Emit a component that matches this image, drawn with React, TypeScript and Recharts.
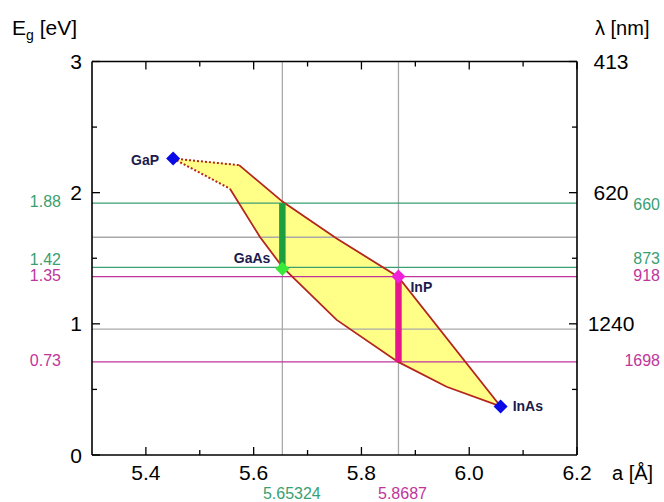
import React from 'react';
import { Area, ComposedChart, Line, ReferenceLine, Scatter, XAxis, YAxis } from 'recharts';

// Band gap vs. lattice constant for the (Ga,In)(As,P) alloy system.
// Yellow region = reachable alloys; coloured bars/lines mark the GaAs and InP
// lattice-matched ranges, with the matching wavelengths on the right axis.

const X_TICKS = [5.4, 5.6, 5.8, 6.0, 6.2];
const X_MINOR = [5.5, 5.7, 5.9, 6.1];
const Y_TICKS = [0, 1, 2, 3];
const Y_MINOR = [0.5, 1.5, 2.5];
const LAMBDA_TICKS = [1, 2, 3];
const LAMBDA_LABELS = ['1240', '620', '413'];

const COMPOUNDS = ['GaP', 'GaAs', 'InP', 'InAs'];
const COMPOUND_A = [5.4505, 5.65324, 5.8687, 6.0583];
const COMPOUND_EG = [2.26, 1.42, 1.36, 0.37];

// edges of the filled region, read at the same lattice constants
const AREA_A = [5.4505, 5.556, 5.573, 5.612, 5.654, 5.754, 5.868, 5.958, 6.0583];
const AREA_LOW = [2.26, 2.03, 1.92, 1.66, 1.43, 1.03, 0.71, 0.52, 0.37];
const AREA_HIGH = [2.26, 2.22, 2.21, 2.07, 1.93, 1.65, 1.36, 0.89, 0.37];

const UPPER_A = [5.573, 5.654, 5.754, 5.868, 6.0583];
const UPPER_EG = [2.21, 1.93, 1.65, 1.36, 0.37];
const LOWER_A = [5.556, 5.612, 5.654, 5.754, 5.868, 5.958, 6.0583];
const LOWER_EG = [2.03, 1.66, 1.43, 1.03, 0.71, 0.52, 0.37];

// dotted edges out to GaP
const DOT_UP_A = [5.4505, 5.573];
const DOT_UP_EG = [2.26, 2.21];
const DOT_LOW_A = [5.4505, 5.556];
const DOT_LOW_EG = [2.26, 2.03];

// lattice-matched band-gap ranges
const BAR_A = [5.65324, 5.8687];
const BAR_LOW = [1.42, 0.71];
const BAR_HIGH = [1.92, 1.36];

const LEVEL_EG = [1.92, 1.43, 1.36, 0.71];
const LEVEL_LEFT = ['1.88', '1.42', '1.35', '0.73'];
const LEVEL_RIGHT = ['660', '873', '918', '1698'];
const GRID_EG = [1.66, 0.96];
const MARK_A = [5.65324, 5.8687];
const MARK_LABELS = ['5.65324', '5.8687'];

const GREEN = '#3a9f72';
const MAGENTA = '#c0359c';
const LEVEL_COLOR = [GREEN, GREEN, MAGENTA, MAGENTA];
const LEVEL_DY = [
  [-1.5, 1],
  [-8, -8.5],
  [-1, -1],
  [-1.5, -1.5],
];
const MARK_COLOR = [GREEN, MAGENTA];
const MARK_DX = [9.5, 4];
const BAR_COLOR = ['#1c9f3c', '#e8168c'];
const EDGE = '#b3261e';

const COMPOUND_STYLE: Record<string, { color: string; dx: number; dy: number; anchor: string }> = {
  GaP: { color: '#0a0ae6', dx: -14, dy: 1, anchor: 'end' },
  GaAs: { color: '#3ae83a', dx: -12, dy: -11, anchor: 'end' },
  InP: { color: '#f020d8', dx: 12, dy: 10, anchor: 'start' },
  InAs: { color: '#0a0ae6', dx: 12, dy: 0, anchor: 'start' },
};

const FONT = '"Liberation Sans", Arial, sans-serif';
const MAJOR = 8;
const MINOR = 5;

const pts = (xs: number[], ys: number[]) => xs.map((a, i) => ({ a, eg: ys[i] }));

const areaData = AREA_A.map((a, i) => ({ a, range: [AREA_LOW[i], AREA_HIGH[i]] }));
const compoundData = COMPOUNDS.map((name, i) => ({ name, a: COMPOUND_A[i], eg: COMPOUND_EG[i] }));

const Diamond = (props: any) => {
  const { cx, cy, payload } = props;
  const s = COMPOUND_STYLE[payload.name];
  const r = 7;
  return (
    <g>
      <polygon
        points={`${cx},${cy - r} ${cx + r},${cy} ${cx},${cy + r} ${cx - r},${cy}`}
        fill={s.color}
      />
      <text
        x={cx + s.dx}
        y={cy + s.dy}
        textAnchor={s.anchor}
        dominantBaseline="central"
        fontSize={14}
        fontWeight={600}
        fill="#1b1b4d"
      >
        {payload.name}
      </text>
    </g>
  );
};

const levelLabel = (i: number) => (props: any) => {
  const vb = props.viewBox;
  return (
    <g fontSize={16} fill={LEVEL_COLOR[i]}>
      <text x={vb.x - 31} y={vb.y + LEVEL_DY[i][0]} textAnchor="end" dominantBaseline="central">
        {LEVEL_LEFT[i]}
      </text>
      <text
        x={vb.x + vb.width + 83}
        y={vb.y + LEVEL_DY[i][1]}
        textAnchor="end"
        dominantBaseline="central"
      >
        {LEVEL_RIGHT[i]}
      </text>
    </g>
  );
};

const markLabel = (i: number) => (props: any) => {
  const vb = props.viewBox;
  return (
    <text
      x={vb.x + MARK_DX[i]}
      y={vb.y + vb.height + 38}
      textAnchor="middle"
      dominantBaseline="central"
      fontSize={16}
      fill={MARK_COLOR[i]}
    >
      {MARK_LABELS[i]}
    </text>
  );
};

// ticks point into the plot; minor ticks are shorter and unlabelled
const BottomTick = ({ x, y, payload }: any) => {
  const major = X_TICKS.includes(payload.value);
  return (
    <g>
      <line x1={x} y1={y} x2={x} y2={y - (major ? MAJOR : MINOR)} stroke="#000" strokeWidth={1.3} />
      {major && (
        <text x={x} y={y + 17} textAnchor="middle" dominantBaseline="central" fontSize={21} fill="#000">
          {payload.value.toFixed(1)}
        </text>
      )}
    </g>
  );
};

const TopTick = ({ x, y, payload }: any) => {
  const major = X_TICKS.includes(payload.value);
  return <line x1={x} y1={y} x2={x} y2={y + (major ? MAJOR : MINOR)} stroke="#000" strokeWidth={1.3} />;
};

const LeftTick = ({ x, y, payload }: any) => {
  const major = Y_TICKS.includes(payload.value);
  return (
    <g>
      <line x1={x} y1={y} x2={x + (major ? MAJOR : MINOR)} y2={y} stroke="#000" strokeWidth={1.3} />
      {major && (
        <text x={x - 10} y={y} textAnchor="end" dominantBaseline="central" fontSize={21} fill="#000">
          {payload.value}
        </text>
      )}
    </g>
  );
};

const RightTick = ({ x, y, payload }: any) => {
  const idx = LAMBDA_TICKS.indexOf(Number(payload.value));
  return (
    <g>
      <line x1={x} y1={y} x2={x - (idx >= 0 ? MAJOR : MINOR)} y2={y} stroke="#000" strokeWidth={1.3} />
      {idx >= 0 && (
        <text x={x + 34} y={y} textAnchor="middle" dominantBaseline="central" fontSize={21} fill="#000">
          {LAMBDA_LABELS[idx]}
        </text>
      )}
    </g>
  );
};

const frame = { stroke: '#000', strokeWidth: 1.6 };
const X_ALL = [...X_TICKS, ...X_MINOR].sort((p, q) => p - q);
const Y_ALL = [...Y_TICKS, ...Y_MINOR].sort((p, q) => p - q);
const R_ALL = [...LAMBDA_TICKS, ...Y_MINOR].sort((p, q) => p - q);

export default function App() {
  return (
    <div
      style={{
        position: 'absolute',
        left: 0,
        top: 0,
        width: 664,
        height: 502,
        fontFamily: FONT,
        background: '#fff',
      }}
    >
      <ComposedChart width={664} height={502} margin={{ top: 41.5, right: 47, bottom: 7, left: 52 }}>
        <XAxis
          dataKey="a"
          type="number"
          domain={[5.3, 6.2]}
          ticks={X_ALL}
          interval={0}
          height={40}
          tickSize={0}
          tickMargin={0}
          tickLine={false}
          tick={<BottomTick />}
          axisLine={frame}
          allowDataOverflow
        />
        <XAxis
          xAxisId="top"
          orientation="top"
          dataKey="a"
          type="number"
          domain={[5.3, 6.2]}
          ticks={X_ALL}
          interval={0}
          height={20}
          tickSize={0}
          tickMargin={0}
          tickLine={false}
          tick={<TopTick />}
          axisLine={frame}
          allowDataOverflow
        />
        <YAxis
          type="number"
          domain={[0, 3]}
          ticks={Y_ALL}
          interval={0}
          width={40}
          tickSize={0}
          tickMargin={0}
          tickLine={false}
          tick={<LeftTick />}
          axisLine={frame}
          allowDataOverflow
        />
        <YAxis
          yAxisId="right"
          orientation="right"
          type="number"
          domain={[0, 3]}
          ticks={R_ALL}
          interval={0}
          width={40}
          tickSize={0}
          tickMargin={0}
          tickLine={false}
          tick={<RightTick />}
          axisLine={frame}
          allowDataOverflow
        />

        <Area
          data={areaData}
          dataKey="range"
          type="linear"
          fill="#ffff88"
          fillOpacity={1}
          stroke="none"
          isAnimationActive={false}
        />

        {GRID_EG.map((v) => (
          <ReferenceLine key={`g${v}`} y={v} stroke="#a9a9a9" strokeWidth={1.3} />
        ))}
        {MARK_A.map((v, i) => (
          <ReferenceLine key={`m${v}`} x={v} stroke="#a9a9a9" strokeWidth={1.3} label={markLabel(i)} />
        ))}
        {LEVEL_EG.map((v, i) => (
          <ReferenceLine key={`l${v}`} y={v} stroke={LEVEL_COLOR[i]} strokeWidth={1.3} label={levelLabel(i)} />
        ))}

        <Line data={pts(DOT_UP_A, DOT_UP_EG)} dataKey="eg" type="linear" stroke={EDGE}
          strokeWidth={2} strokeDasharray="2 2" dot={false} isAnimationActive={false} />
        <Line data={pts(DOT_LOW_A, DOT_LOW_EG)} dataKey="eg" type="linear" stroke={EDGE}
          strokeWidth={2} strokeDasharray="2 2" dot={false} isAnimationActive={false} />
        <Line data={pts(UPPER_A, UPPER_EG)} dataKey="eg" type="linear" stroke={EDGE}
          strokeWidth={1.8} dot={false} isAnimationActive={false} />
        <Line data={pts(LOWER_A, LOWER_EG)} dataKey="eg" type="linear" stroke={EDGE}
          strokeWidth={1.8} dot={false} isAnimationActive={false} />

        {BAR_A.map((a, i) => (
          <Line
            key={`b${a}`}
            data={[
              { a, eg: BAR_LOW[i] },
              { a, eg: BAR_HIGH[i] },
            ]}
            dataKey="eg"
            type="linear"
            stroke={BAR_COLOR[i]}
            strokeWidth={6.5}
            dot={false}
            isAnimationActive={false}
          />
        ))}

        <Scatter data={compoundData} dataKey="eg" shape={Diamond} isAnimationActive={false} />
        {/* keeps the right (wavelength) axis bound to a series */}
        <Line yAxisId="right" xAxisId="top" data={pts(LAMBDA_TICKS.map(() => 5.3), LAMBDA_TICKS)}
          dataKey="eg" stroke="none" dot={false} isAnimationActive={false} legendType="none" />
      </ComposedChart>

      <svg
        width={664}
        height={502}
        style={{ position: 'absolute', left: 0, top: 0, pointerEvents: 'none' }}
        fontFamily={FONT}
      >
        <text x={12} y={35} fontSize={21} fill="#000">
          E<tspan fontSize={14} dy={5}>g</tspan>
          <tspan dy={-5}> [eV]</tspan>
        </text>
        <text x={595} y={35} fontSize={20} fill="#000">
          λ [nm]
        </text>
        <text x={612} y={480} fontSize={20} fill="#000">
          a [Å]
        </text>
      </svg>
    </div>
  );
}
